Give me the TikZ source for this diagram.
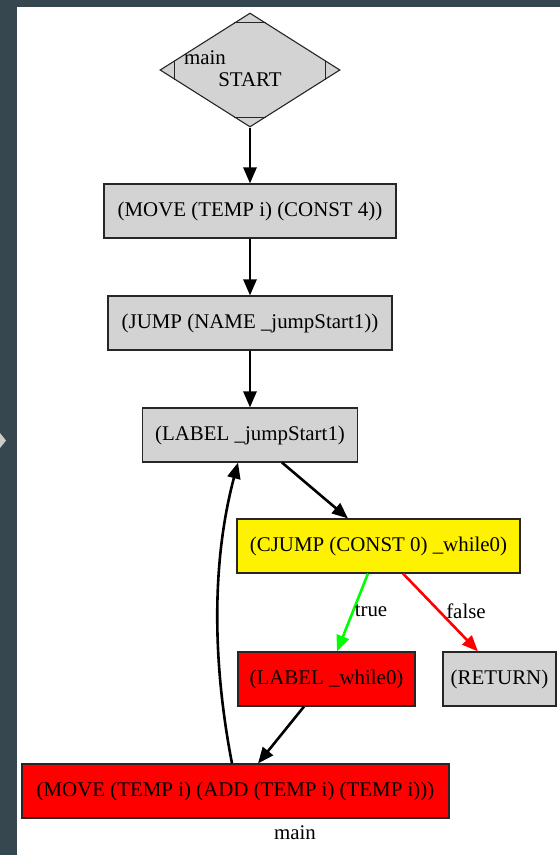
\documentclass[tikz,border=0pt]{standalone}
\usepackage{fontspec}
\setmainfont{Liberation Serif}
\usetikzlibrary{shapes.geometric,arrows.meta}
\definecolor{frame}{HTML}{37474F}
\definecolor{boxgray}{HTML}{D3D3D3}
\tikzset{
  stmt/.style={draw=black!85, line width=1.1pt, rectangle, minimum height=54pt,
    inner sep=0pt, font=\fontsize{20.9}{24}\selectfont},
  flow/.style={line width=2.6pt, -{Triangle[length=16pt,width=13pt]}},
  edgelabel/.style={inner sep=0pt, font=\fontsize{20.9}{24}\selectfont},
  cutline/.style={line width=1.1pt, draw=black!85}
}
\begin{document}
\begin{tikzpicture}[x=1pt,y=-1pt]
  % canvas and frame
  \useasboundingbox (0,0) rectangle (560,855);
  \fill[frame] (0,0) rectangle (560,855);
  \fill[white] (16.5,7) rectangle (560,855);
  \fill[black!20] (0,433) -- (6,440.5) -- (0,448) -- cycle;

  % entry diamond
  \node[diamond, draw=black!85, line width=1.1pt, fill=boxgray, minimum width=180pt,
        minimum height=114pt, inner sep=0pt] (start) at (250,70) {};
  \draw[cutline] ([xshift=-16pt,yshift=-10pt]start.north) -- ([xshift=16pt,yshift=-10pt]start.north);
  \draw[cutline] ([xshift=-16pt,yshift=10pt]start.south) -- ([xshift=16pt,yshift=10pt]start.south);
  \draw[cutline] ([xshift=15pt,yshift=9.5pt]start.west) -- ([xshift=15pt,yshift=-9.5pt]start.west);
  \draw[cutline] ([xshift=-15pt,yshift=9.5pt]start.east) -- ([xshift=-15pt,yshift=-9.5pt]start.east);
  \node[edgelabel] (fname) at (205,58) {main};
  \node[edgelabel] (starttxt) at (250,80) {START};

  % statements
  \node[stmt, fill=boxgray, minimum width=292pt] (s1) at (250,211) {(MOVE (TEMP i) (CONST 4))};
  \node[stmt, fill=boxgray, minimum width=284pt] (s2) at (250,323) {(JUMP (NAME \_jumpStart1))};
  \node[stmt, fill=boxgray, minimum width=215pt] (s3) at (250,435) {(LABEL \_jumpStart1)};
  \node[stmt, fill=yellow, minimum width=283pt] (s4) at (378.5,546) {(CJUMP (CONST 0) \_while0)};
  \node[stmt, fill=red, minimum width=177pt] (s5) at (326.5,679) {(LABEL \_while0)};
  \node[stmt, fill=boxgray, minimum width=113pt] (s6) at (499.5,679) {(RETURN)};
  \node[stmt, fill=red, minimum width=427pt] (s7) at (235.5,791) {(MOVE (TEMP i) (ADD (TEMP i) (TEMP i)))};
  \node[edgelabel] (gname) at (295,833) {main};

  % control flow
  \draw[flow] (start.south) -- (s1.north);
  \draw[flow] (s1.south) -- (s2.north);
  \draw[flow] (s2.south) -- (s3.north);
  \draw[flow] ([xshift=32pt]s3.south) -- ([xshift=-30.5pt]s4.north);
  \draw[flow, green] ([xshift=-10.5pt]s4.south) -- ([xshift=10.5pt]s5.north);
  \draw[flow, red] ([xshift=24.5pt]s4.south) -- ([xshift=-21.5pt]s6.north);
  \draw[flow] ([xshift=-22.5pt]s5.south) -- ([xshift=22.5pt]s7.north);
  \draw[flow] ([xshift=-3.5pt]s7.north) .. controls (212,660) and (212,560) .. ([xshift=-12pt]s3.south);
  \node[edgelabel] (ltrue) at (371,611) {true};
  \node[edgelabel] (lfalse) at (466,611) {false};
\end{tikzpicture}
\end{document}
